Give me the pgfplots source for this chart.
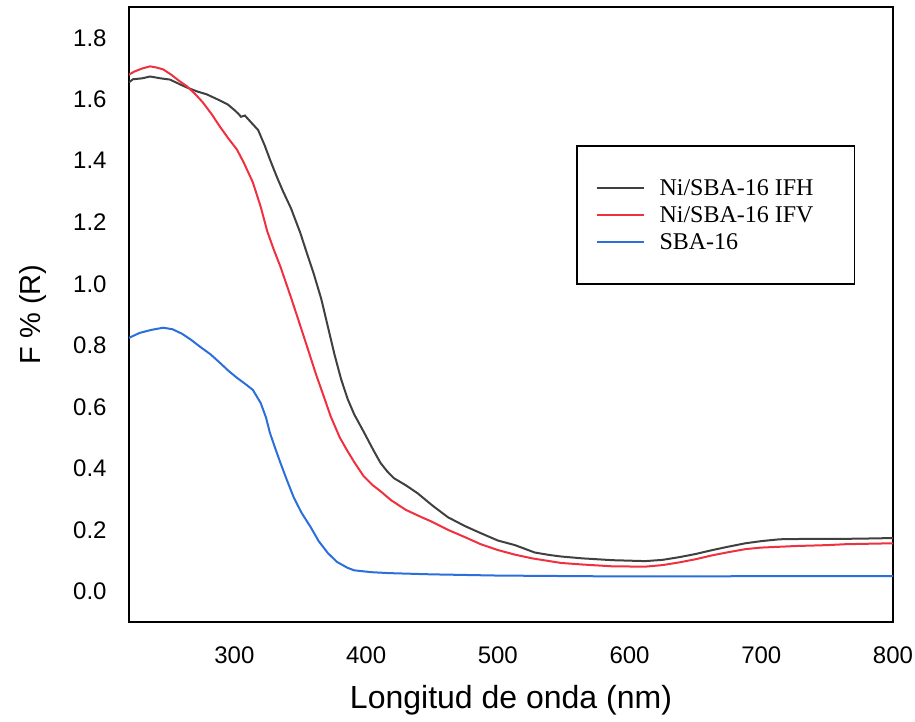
\documentclass[border=0pt]{standalone}
\usepackage{fontspec}
\setmainfont{Liberation Sans}
\newfontfamily\legendfont{Liberation Serif}
\usepackage{pgfplots}
\pgfplotsset{compat=1.18}

\definecolor{ifh}{HTML}{404040}
\definecolor{ifv}{HTML}{F0303F}
\definecolor{sba}{HTML}{2A6FDB}

\begin{document}
\begin{tikzpicture}
\path (-64.5pt,-47.5pt) rectangle (393pt,311pt);
\begin{axis}[
    scale only axis,
    width=382pt, height=307.5pt,
    xmin=220, xmax=800,
    ymin=-0.1, ymax=1.9,
    xtick={300,400,...,800},
    ytick={0,0.2,...,1.8},
    major tick length=0pt,
    axis line style={line width=1.2pt, black},
    /pgf/number format/assume math mode=true,
    yticklabel style={/pgf/number format/fixed, /pgf/number format/fixed zerofill,
        /pgf/number format/precision=1, anchor=east, inner sep=0pt, xshift=-11pt},
    xticklabel style={anchor=center, inner sep=0pt, yshift=-16.5pt},
    tick label style={font=\fontsize{12}{14}\selectfont},
    every axis x label/.style={at={(axis description cs:0.5,-0.1268)}, anchor=center},
    every axis y label/.style={at={(axis description cs:-0.1257,0.5)}, anchor=center, rotate=90},
    xlabel style={font=\fontsize{16}{19}\selectfont},
    ylabel style={font=\fontsize{14.5}{17}\selectfont},
    xlabel={Longitud de onda (nm)},
    ylabel={F \% (R)},
    legend cell align=left,
    legend image code/.code={\draw[#1, line width=0.9pt] (0pt,0pt) -- (23.5pt,0pt);},
    legend style={at={(rel axis cs:0.585,0.7756)}, anchor=north west,
        draw=black, line width=0.8pt, inner xsep=9.5pt, inner ysep=14.5pt,
        column sep=7.5pt, row sep=0pt,
        font=\legendfont\fontsize{12}{13}\selectfont,
        nodes={inner sep=0pt, text height=10.6pt, text depth=2.8pt}},
]
\addplot[ifh, line width=1pt] coordinates {
(220,1.655) (223,1.665) (230,1.668) (236,1.674) (244,1.668) (251,1.664)
(258,1.650) (264,1.638) (272,1.625) (279,1.616) (287,1.600) (295,1.583)
(300,1.565) (303,1.553) (305,1.543) (308,1.547) (312,1.528) (318,1.500)
(323,1.450) (327,1.404) (332,1.350) (337,1.300) (343,1.245) (350,1.166)
(355,1.100) (360,1.036) (366,0.950) (371,0.860) (376,0.770) (381,0.690)
(386,0.625) (391,0.575) (398,0.520) (406,0.455) (411,0.417) (416,0.390)
(421,0.368) (430,0.345) (439,0.319) (450,0.280) (462,0.241) (475,0.212)
(487,0.189) (500,0.165) (513,0.150) (528,0.126) (539,0.118) (548,0.113)
(564,0.107) (587,0.101) (612,0.098) (625,0.102) (638,0.111) (650,0.121)
(663,0.134) (675,0.145) (688,0.156) (700,0.163) (714,0.169) (730,0.170)
(752,0.170) (775,0.171) (800,0.173)
};
\addlegendentry{\makebox[88pt][l]{Ni/SBA-16 IFH}}
\addplot[ifv, line width=1pt] coordinates {
(220,1.680) (224,1.690) (230,1.700) (236,1.707) (241,1.703) (246,1.697)
(252,1.680) (258,1.660) (264,1.642) (270,1.618) (276,1.590) (283,1.550)
(289,1.511) (295,1.475) (302,1.436) (307,1.395) (314,1.330) (320,1.250)
(325,1.170) (330,1.110) (335,1.055) (343,0.955) (348,0.890) (356,0.785)
(362,0.705) (368,0.632) (373,0.570) (380,0.500) (386,0.455) (391,0.420)
(398,0.375) (405,0.345) (411,0.325) (419,0.296) (430,0.265) (442,0.241)
(449,0.228) (462,0.200) (475,0.176) (487,0.153) (500,0.134) (513,0.119)
(526,0.107) (548,0.092) (564,0.087) (587,0.081) (612,0.080) (625,0.085)
(638,0.094) (650,0.104) (663,0.117) (675,0.127) (688,0.137) (700,0.142)
(726,0.147) (750,0.150) (764,0.153) (800,0.156)
};
\addlegendentry{Ni/SBA-16 IFV}
\addplot[sba, line width=1pt] coordinates {
(220,0.824) (228,0.840) (237,0.850) (246,0.857) (253,0.852) (260,0.838)
(267,0.818) (274,0.795) (282,0.770) (289,0.743) (296,0.715) (302,0.694)
(308,0.675) (314,0.655) (320,0.612) (324,0.565) (327,0.515) (331,0.465)
(335,0.417) (340,0.360) (345,0.306) (351,0.255) (358,0.208) (364,0.163)
(371,0.124) (378,0.095) (386,0.076) (391,0.068) (404,0.062) (417,0.059)
(449,0.055) (500,0.051) (564,0.049) (600,0.048) (700,0.049) (800,0.049)
};
\addlegendentry{SBA-16}
\end{axis}
\end{tikzpicture}
\end{document}
